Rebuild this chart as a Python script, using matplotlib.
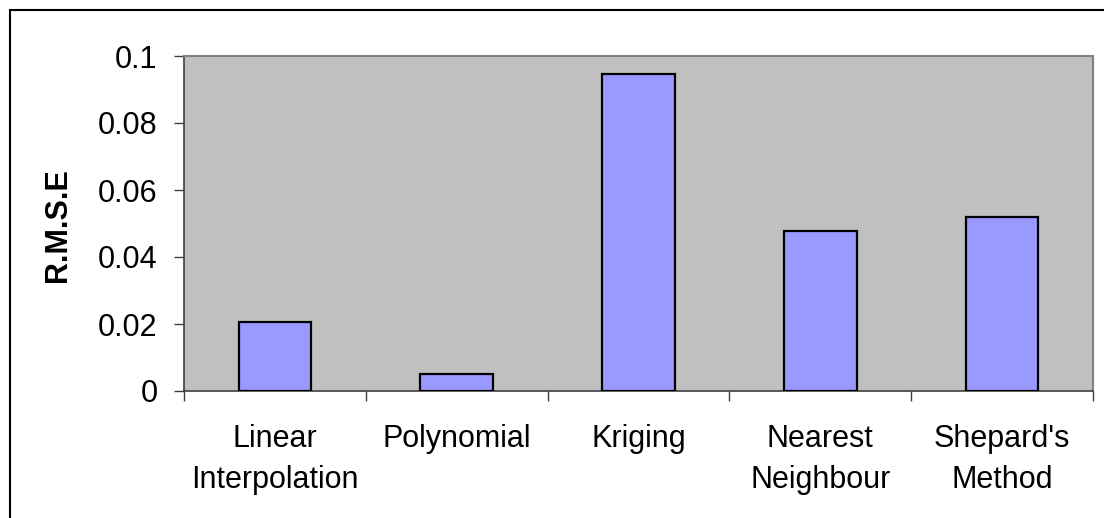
import matplotlib
matplotlib.use("Agg")
import matplotlib.pyplot as plt
from matplotlib.patches import Rectangle

categories = ["Linear\nInterpolation", "Polynomial", "Kriging", "Nearest\nNeighbour", "Shepard's\nMethod"]
rmse = [0.0206, 0.0052, 0.0947, 0.0477, 0.0518]
yticks = [0, 0.02, 0.04, 0.06, 0.08, 0.1]
ytick_labels = ["0", "0.02", "0.04", "0.06", "0.08", "0.1"]

plt.rcParams['font.family'] = ['Liberation Sans', 'DejaVu Sans']

W, H = 1104, 518
fig = plt.figure(figsize=(W / 100, H / 100), dpi=100)
ax = fig.add_axes([184 / W, 1 - 391 / H, (1093 - 184) / W, (391 - 56) / H])
ax.set_facecolor('#C0C0C0')

x = list(range(len(categories)))
ax.bar(x, rmse, width=0.4, color='#9999FF', edgecolor='black', linewidth=1.6, zorder=3)

ax.set_xlim(-0.5, len(categories) - 0.5)
ax.set_ylim(0, 0.1)

ax.set_yticks(yticks)
ax.set_yticklabels(ytick_labels)
ax.tick_params(axis='y', direction='out', length=7, width=1, color='#404040', labelsize=22, pad=12)

ax.set_xticks([i - 0.5 for i in range(len(categories) + 1)])
ax.set_xticklabels([])
ax.tick_params(axis='x', which='major', direction='out', length=7, width=1, color='#404040')
ax.set_xticks(x, minor=True)
ax.set_xticklabels(categories, minor=True, fontsize=22, linespacing=1.45)
ax.tick_params(axis='x', which='minor', length=0, pad=24)

for s in ['left', 'bottom']:
    ax.spines[s].set_color('#404040')
    ax.spines[s].set_linewidth(1.2)
for s in ['top', 'right']:
    ax.spines[s].set_color('#808080')
    ax.spines[s].set_linewidth(1.5)

fig.text(58 / W, 1 - 225 / H, "R.M.S.E", rotation=90, ha='center', va='center',
         fontsize=22, fontweight='bold')

fig.patches.append(Rectangle((10 / W, -0.2), 1.5, 1 - 10 / H + 0.2, transform=fig.transFigure,
                             fill=False, edgecolor='black', linewidth=1.5))

fig.savefig("out.png", dpi=100)
